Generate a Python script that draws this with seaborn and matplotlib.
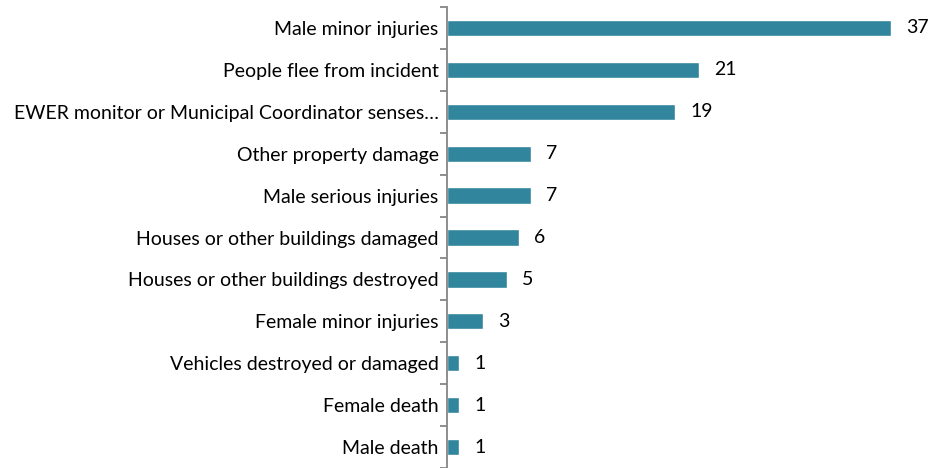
import matplotlib
matplotlib.use("Agg")
import matplotlib.pyplot as plt
import seaborn as sns
import pandas as pd
import numpy as np

categories = [
    "Male minor injuries",
    "People flee from incident",
    "EWER monitor or Municipal Coordinator senses\u2026",
    "Other property damage",
    "Male serious injuries",
    "Houses or other buildings damaged",
    "Houses or other buildings destroyed",
    "Female minor injuries",
    "Vehicles destroyed or damaged",
    "Female death",
    "Male death",
]
values = [37, 21, 19, 7, 7, 6, 5, 3, 1, 1, 1]

df = pd.DataFrame({"category": categories, "value": values})

sns.set_theme(style="white")
plt.rcParams['font.family'] = ['Lato', 'DejaVu Sans']

fig = plt.figure(figsize=(9.31, 4.68), dpi=100)
ax = fig.add_axes([447/931, 0.0, 480/931, 1 - 7/468])

sns.barplot(data=df, y="category", x="value", orient="h", color="#31859C",
            width=0.39, saturation=1, ax=ax)

ax.set_xlim(0, 40)
ax.set_ylim(len(categories) - 0.5, -0.5)
ax.set_xlabel("")
ax.set_ylabel("")
ax.set_xticks([])
for s in ["top", "right", "bottom"]:
    ax.spines[s].set_visible(False)
ax.spines["left"].set_color("#868686")
ax.spines["left"].set_linewidth(1.3)

ax.tick_params(axis="y", which="major", length=0, pad=6, labelsize=14, labelcolor="black")
ax.set_yticks(np.arange(-0.5, len(categories), 1), minor=True)
ax.tick_params(axis="y", which="minor", length=5, width=1.3, color="#868686", left=True)

for i, v in enumerate(values):
    ax.text(v + 1.25, i, str(v), va="center", ha="left", fontsize=14, color="black")

fig.savefig("out.png", dpi=100)
